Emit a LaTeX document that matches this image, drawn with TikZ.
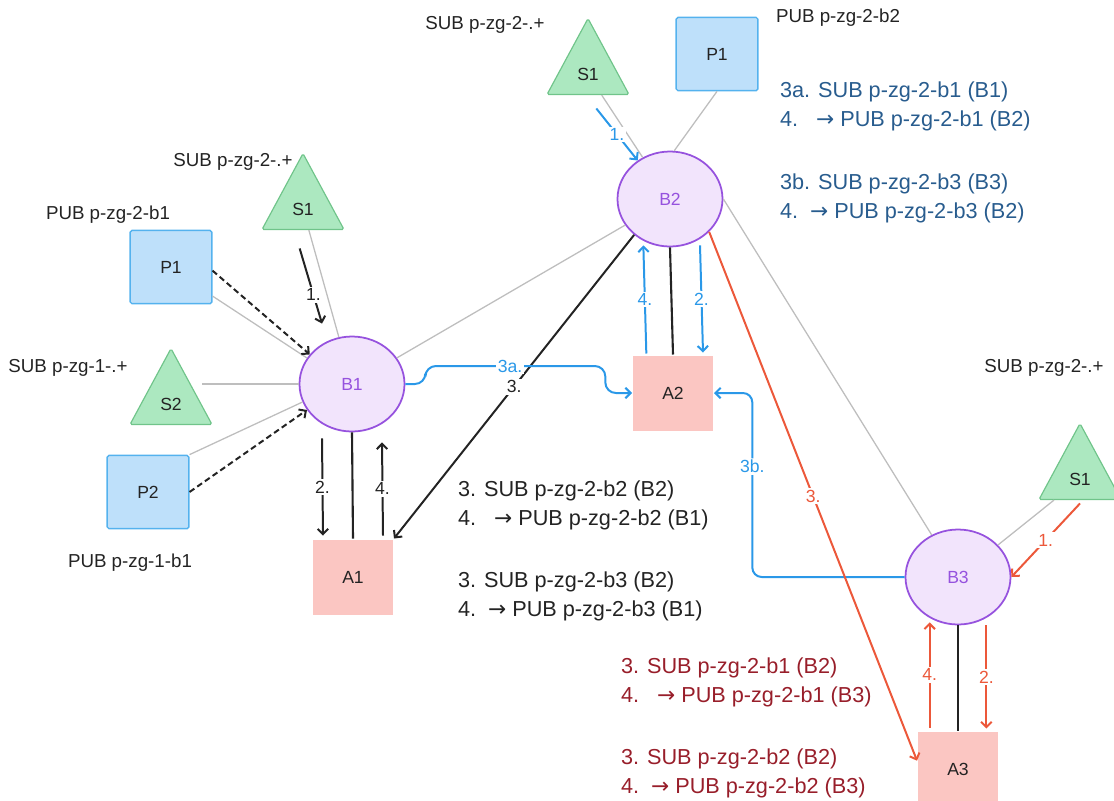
\documentclass[tikz,border=0pt]{standalone}
\usepackage{fontspec}
\setmainfont{Liberation Sans}
\newfontfamily\arrowfont{DejaVu Sans}
\usepackage{tikz}
\usetikzlibrary{arrows.meta, calc, positioning, shapes.geometric}

\definecolor{subfill}{RGB}{172,232,192}
\definecolor{subdraw}{RGB}{112,196,138}
\definecolor{pubfill}{RGB}{190,224,250}
\definecolor{pubdraw}{RGB}{84,178,238}
\definecolor{appfill}{RGB}{251,198,194}
\definecolor{brkfill}{RGB}{242,228,252}
\definecolor{brkdraw}{RGB}{150,82,222}
\definecolor{wire}{RGB}{190,190,190}
\definecolor{flowblue}{RGB}{42,152,232}
\definecolor{flowred}{RGB}{236,88,58}
\definecolor{noteblue}{RGB}{40,92,142}
\definecolor{notered}{RGB}{152,30,42}
\definecolor{ink}{RGB}{35,35,35}

\newcommand{\toarr}{{\arrowfont →}}

\tikzset{
  sub/.style={isosceles triangle, shape border rotate=90, isosceles triangle stretches,
    minimum width=2.46cm, minimum height=2.28cm, inner sep=0pt, fill=subfill, draw=subdraw,
    line width=1pt, rounded corners=1.5pt, text=ink, font=\fontsize{15}{15}\selectfont},
  pub/.style={rectangle, minimum width=2.45cm, minimum height=2.2cm, fill=pubfill, draw=pubdraw,
    line width=1.2pt, rounded corners=1.5pt, text=ink, font=\fontsize{15}{15}\selectfont},
  app/.style={rectangle, minimum width=2.4cm, minimum height=2.25cm, fill=appfill,
    text=ink, font=\fontsize{15}{15}\selectfont},
  broker/.style={ellipse, minimum width=3.15cm, minimum height=2.85cm, inner sep=0pt,
    fill=brkfill, draw=brkdraw, line width=1.5pt, text=brkdraw, font=\fontsize{15}{15}\selectfont},
  caption/.style={text=ink, inner sep=0pt, font=\fontsize{16}{16}\selectfont},
  note/.style={anchor=west, align=left, inner sep=0pt, font=\fontsize{18.5}{24.7}\selectfont},
  tag/.style={fill=white, inner sep=1.5pt, font=\fontsize{15}{15}\selectfont},
  wireline/.style={wire, line width=1.1pt},
  link/.style={ink, line width=1.8pt},
}

\begin{document}
\begin{tikzpicture}[x=0.03cm, y=-0.03cm, line width=1.7pt, >={Straight Barb[length=4.5pt,width=9pt]}]
        \useasboundingbox (0,0) rectangle (1114,800);

        % Nodes
        \node[sub, anchor=apex] (S1a) at (303,152) {S1};
        \node[pub] (P1a) at (171,267) {P1};
        \node[sub, anchor=apex] (S2) at (171,347) {S2};
        \node[pub] (P2) at (148,492) {P2};
        \node[broker] (B1) at (352,384) {B1};
        \node[app] (A1) at (353,577) {A1};

        \node[sub, anchor=apex] (S1b) at (588,17) {S1};
        \node[pub] (P1b) at (717,54) {P1};
        \node[broker] (B2) at (670,199) {B2};
        \node[app] (A2) at (673,393) {A2};

        \node[sub, anchor=apex] (S1c) at (1080,422) {S1};
        \node[broker] (B3) at (958,577) {B3};
        \node[app] (A3) at (958,769) {A3};

        % Topic labels
        \node[caption] (S1aLbl) at (233,162) {SUB p-zg-2-.+};
        \node[caption] (P1aLbl) at (108,215) {PUB p-zg-2-b1};
        \node[caption] (S2Lbl) at (68,368) {SUB p-zg-1-.+};
        \node[caption] (P2Lbl) at (130,563) {PUB p-zg-1-b1};
        \node[caption] (S1bLbl) at (485,25) {SUB p-zg-2-.+};
        \node[caption] (P1bLbl) at (838,18) {PUB p-zg-2-b2};
        \node[caption] (S1cLbl) at (1044,368) {SUB p-zg-2-.+};

        % Undirected edges
        \draw[wireline] (S1a) -- (B1);
        \draw[wireline] (P1a.-35) -- (B1.150);
        \draw[wireline] (B1.west) -- (B1.west -| S2.east);
        \draw[wireline] (P2.north east) -- (B1.200);
        \draw[wireline] (B1) -- (B2);
        \draw[wireline] (S1b) -- (B2);
        \draw[wireline] (P1b.south) -- (B2.85);
        \draw[wireline] (B2.east) -- (B3.122);
        \draw[wireline] (S1c) -- (B3);

        \draw[link] (B1.south) -- (A1.north);
        \draw[link] (B2.south) -- (A2.north);
        \draw[link] (B3.south) -- (A3.north);

        % Directed edges, B1
        \draw[->, ink, shorten >=0.55cm] ([xshift=-0.1cm, yshift=-0.55cm]S1a.south) -- (B1.120) node[tag, midway] {1.};
        \draw[->, ink, dash pattern=on 5pt off 3pt] (P1a.-5) -- (B1.145);
        \draw[->, ink, dash pattern=on 5pt off 3pt] (P2.east) -- (B1.210);
        \draw[->, ink] ([xshift=-0.9cm, yshift=-0.18cm]B1.south) -- ([xshift=-0.9cm, yshift=0.09cm]A1.north) node[tag, midway] {2.};
        \draw[->, ink] ([xshift=0.9cm, yshift=0.09cm]A1.north) -- ([xshift=0.9cm, yshift=-0.3cm]B1.south) node[tag, midway] {4.};
        \draw[->, ink] (B2.225) -- (A1.north east) node[tag, midway] {3.};

        % Directed edges, B2
        \draw[->, flowblue, text=flowblue] ([xshift=0.25cm, yshift=-0.4cm]S1b.south) -- (B2.130) node[tag, midway] {1.};
        \draw[->, flowblue, text=flowblue] ([xshift=-0.8cm, yshift=0.03cm]A2.north) -- ([xshift=-0.8cm, yshift=0.06cm]B2.south) node[tag, midway] {4.};
        \draw[->, flowblue, text=flowblue] ([xshift=0.9cm, yshift=0.06cm]B2.south) -- ([xshift=0.9cm, yshift=0.06cm]A2.north) node[tag, midway] {2.};
        \draw[->, flowblue, rounded corners=9pt] (B1.east) -- ++(20,0) -- ++(0,-18) -| ([xshift=-0.8cm]A2.west) -- (A2.west);
        \node[tag, text=flowblue] (T3a) at (510,366) {3a.};
        \draw[->, flowblue, text=flowblue, rounded corners=8pt] (B3.west) -| ([xshift=1.15cm]A2.east) node[tag, pos=0.8] {3b.} -- (A2.east);

        % Directed edges, B3
        \draw[->, flowred, text=flowred] ([yshift=-0.1cm]S1c.south) -- (B3.east) node[tag, midway] {1.};
        \draw[->, flowred, text=flowred] ([xshift=-0.85cm, yshift=0.09cm]A3.north) -- ([xshift=-0.85cm, yshift=0.09cm]B3.south) node[tag, midway] {4.};
        \draw[->, flowred, text=flowred] ([xshift=0.85cm]B3.south) -- ([xshift=0.85cm, yshift=0.06cm]A3.north) node[tag, midway] {2.};
        \draw[->, flowred, text=flowred] (B2.-40) -- ([yshift=0.25cm]A3.west) node[tag, midway] {3.};

        % Notes
        \node[note, text=noteblue] (N1) at (779,106.5) {3a. SUB p-zg-2-b1 (B1)\\4.\ \ \ \toarr\ PUB p-zg-2-b1 (B2)};
        \node[note, text=noteblue] (N2) at (779,198.5) {3b. SUB p-zg-2-b3 (B3)\\4.\ \ \toarr\ PUB p-zg-2-b3 (B2)};
        \node[note, text=ink] (N3) at (457,505.5) {3. SUB p-zg-2-b2 (B2)\\4.\ \ \ \toarr\ PUB p-zg-2-b2 (B1)};
        \node[note, text=ink] (N4) at (457,596) {3. SUB p-zg-2-b3 (B2)\\4.\ \ \toarr\ PUB p-zg-2-b3 (B1)};
        \node[note, text=notered] (N5) at (620,682) {3. SUB p-zg-2-b1 (B2)\\4.\ \ \ \toarr\ PUB p-zg-2-b1 (B3)};
        \node[note, text=notered] (N6) at (620,773) {3. SUB p-zg-2-b2 (B2)\\4.\ \ \toarr\ PUB p-zg-2-b2 (B3)};
\end{tikzpicture}
\end{document}
